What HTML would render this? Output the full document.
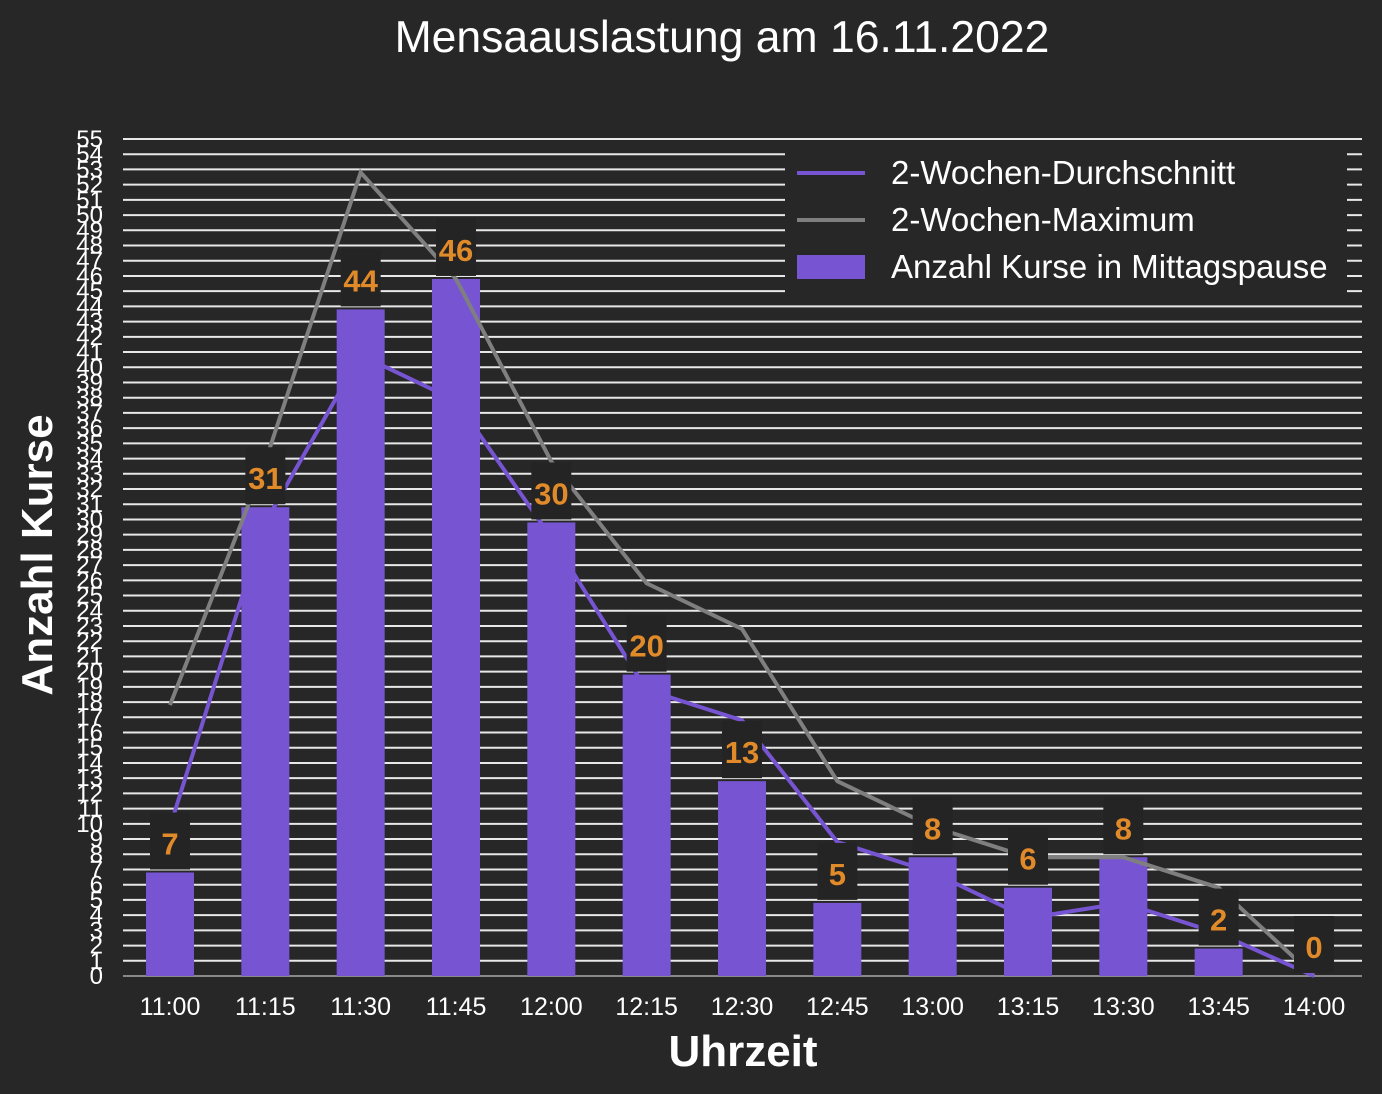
<!DOCTYPE html>
<html><head><meta charset="utf-8"><style>
body{margin:0;background:#272727;}
svg{display:block;font-family:"Liberation Sans",sans-serif;}
</style></head><body>
<svg id="c" width="1382" height="1094">
<rect width="1382" height="1094" fill="#272727"/>
<text x="722" y="52" font-size="44.5" fill="#fff" text-anchor="middle">Mensaauslastung am 16.11.2022</text>
<text transform="translate(52,555) rotate(-90)" font-size="44" font-weight="bold" fill="#fff" text-anchor="middle">Anzahl Kurse</text>
<text x="743" y="1066" font-size="44" font-weight="bold" fill="#fff" text-anchor="middle">Uhrzeit</text>
<g id="grid"></g><g id="bars"></g><g id="lines"></g><g id="labels"></g><g id="legend"></g>
</svg>
<script>
const categories=["11:00","11:15","11:30","11:45","12:00","12:15","12:30","12:45","13:00","13:15","13:30","13:45","14:00"];
const courses=[7,31,44,46,30,20,13,5,8,6,8,2,0];
const avg2w=[10,30,41,38,29,19,17,9,7,4,5,3,0];
const max2w=[18,34,53,46,34,26,23,13,10,8,8,6,0];
const yMax=55;
const NS="http://www.w3.org/2000/svg";
const svg=document.getElementById('c');
function el(t,a,p){const e=document.createElementNS(NS,t);for(const k in a)e.setAttribute(k,a[k]);(p||svg).appendChild(e);return e;}
const y=v=>976-v*(976-139)/yMax;
const ym=v=>Math.min(976,y(v)+3);
const x=i=>170+i*(1314-170)/(categories.length-1);
const grid=document.getElementById('grid');
for(let v=0;v<=yMax;v++){
  const l=el('line',{x1:123,x2:1362,y1:y(v),y2:y(v),stroke:v===0?'#888':'#e8e8e8','stroke-width':2},grid);
  
  
  const t=el('text',{x:103,y:y(v)+8,'font-size':24,fill:'#fff','text-anchor':'end'},grid);
  t.textContent=v;
  
  
}
const bars=document.getElementById('bars');
categories.forEach((c,i)=>{
  const b=el('rect',{x:x(i)-24,y:ym(courses[i]),width:48,height:976-ym(courses[i]),fill:'#7755d2'},bars);
  
  
  const t=el('text',{x:x(i),y:1015,'font-size':25,fill:'#fff','text-anchor':'middle'},bars);
  t.textContent=c;
  
  
});
const lines=document.getElementById('lines');
const pm=el('polyline',{points:max2w.map((v,i)=>x(i)+','+ym(v)).join(' '),fill:'none',stroke:'#7f7f7f','stroke-width':4},lines);


const pa=el('polyline',{points:avg2w.map((v,i)=>x(i)+','+ym(v)).join(' '),fill:'none',stroke:'#7755d2','stroke-width':4},lines);


const labels=document.getElementById('labels');
categories.forEach((c,i)=>{
  const yt=ym(courses[i]);
  const r=el('rect',{x:x(i)-20,y:yt-60,width:40,height:57,fill:'#242424'},labels);
  
  
  const t=el('text',{x:x(i),y:yt-18,'font-size':31,'font-weight':'bold',fill:'#e08a2a','text-anchor':'middle'},labels);
  t.textContent=courses[i];
  
  
});
const lg=document.getElementById('legend');
const bx=el('rect',{x:785,y:146,width:562,height:150,fill:'#272727'},lg);


const items=[['2-Wochen-Durchschnitt','#7755d2','line'],['2-Wochen-Maximum','#7f7f7f','line'],['Anzahl Kurse in Mittagspause','#7755d2','bar']];
items.forEach((it,k)=>{
  const yy=173+k*47;
  let s;
  if(it[2]==='line') s=el('line',{x1:797,x2:865,y1:yy,y2:yy,stroke:it[1],'stroke-width':4},lg);
  else s=el('rect',{x:797,y:yy-12,width:68,height:24,fill:it[1]},lg);
  
  
  const t=el('text',{x:891,y:yy+11,'font-size':33,fill:'#fff'},lg);
  t.textContent=it[0];
  
  
});
</script>
</body></html>
